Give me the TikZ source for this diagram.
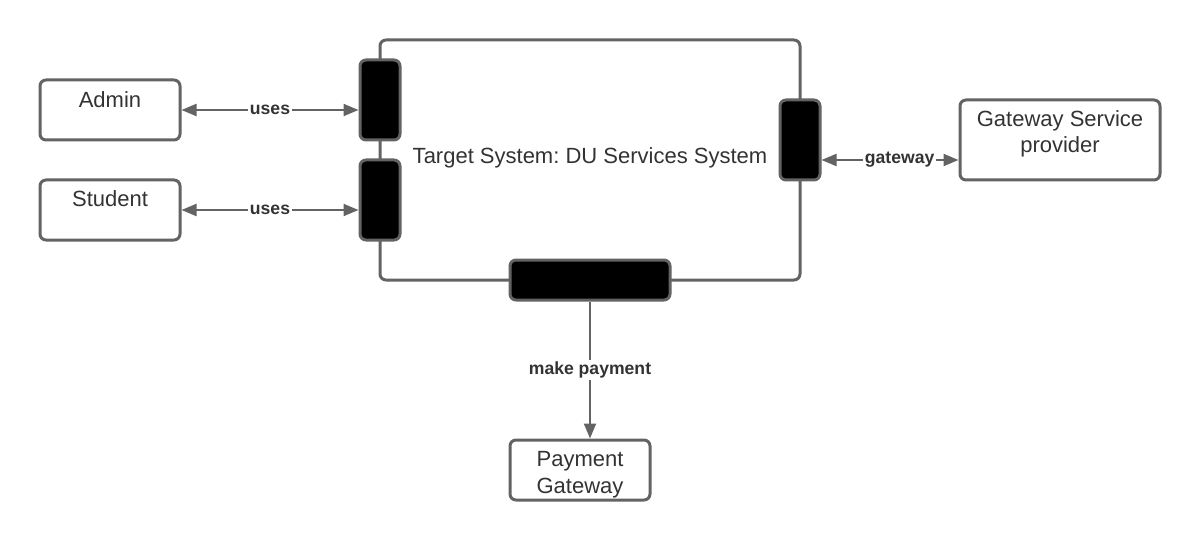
\documentclass[tikz,border=0pt]{standalone}
\usepackage{fontspec}
\setmainfont{Liberation Sans}
\usetikzlibrary{arrows.meta}
\frenchspacing

\definecolor{edgegray}{HTML}{636363}
\definecolor{textgray}{HTML}{333333}

\begin{document}
\begin{tikzpicture}[x=0.5pt,y=-0.5pt,
  box/.style={draw=edgegray, line width=1.5pt, rounded corners=3pt, fill=white, inner sep=0pt},
  port/.style={box, fill=black},
  boxtext/.style={text=textgray, font=\fontsize{11}{13}\selectfont, align=center, inner sep=0pt},
  flow/.style={draw=edgegray, line width=1pt, -{Triangle[length=7.5pt,width=6pt]}},
  twoway/.style={flow, {Triangle[length=7.5pt,width=6pt]}-{Triangle[length=7.5pt,width=6pt]}},
  tag/.style={fill=white, inner sep=1pt, text=textgray, font=\bfseries\fontsize{8.8}{10}\selectfont}]
  \useasboundingbox (0,0) rectangle (1200,540);

  % the system and its ports
  \node[box, minimum width=210pt, minimum height=120pt] (sys) at (590,160) {};
  \node[boxtext] (systxt) at (590,158) {Target System: DU Services System};
  \node[port, minimum width=20pt, minimum height=40pt] (porta) at (380,100) {};
  \node[port, minimum width=20pt, minimum height=40pt] (ports) at (380,200) {};
  \node[port, minimum width=20pt, minimum height=40pt] (portg) at (800,140) {};
  \node[port, minimum width=80pt, minimum height=20pt] (portp) at (590,280) {};

  % actors
  \node[box, minimum width=70pt, minimum height=30pt] (admin) at (110,110) {};
  \node[boxtext] (admintxt) at (110,100) {Admin};
  \node[box, minimum width=70pt, minimum height=30pt] (student) at (110,210) {};
  \node[boxtext] (studenttxt) at (110,199) {Student};
  \node[box, minimum width=100pt, minimum height=40pt] (gw) at (1060,140) {};
  \node[boxtext] (gwtxt) at (1060,134) {Gateway Service\\provider};
  \node[box, minimum width=70pt, minimum height=30pt] (pay) at (580,470) {};
  \node[boxtext, font=\fontsize{11}{13.5}\selectfont] (paytxt) at (580,475) {Payment\\Gateway};

  % connectors
  \coordinate (gwline) at (0,160);
  \draw[twoway] (admin.east) -- (admin.east -| porta.west) node[tag, midway] (usesa) {uses};
  \draw[twoway] (student.east) -- (student.east -| ports.west) node[tag, midway] (usess) {uses};
  \draw[twoway] (portg.east |- gwline) -- (gw.west |- gwline) node[tag, pos=0.57] (gwlbl) {gateway};
  \draw[flow] (portp.south) -- (portp.south |- pay.north) node[tag, midway] (paylbl) {make payment};
\end{tikzpicture}
\end{document}
